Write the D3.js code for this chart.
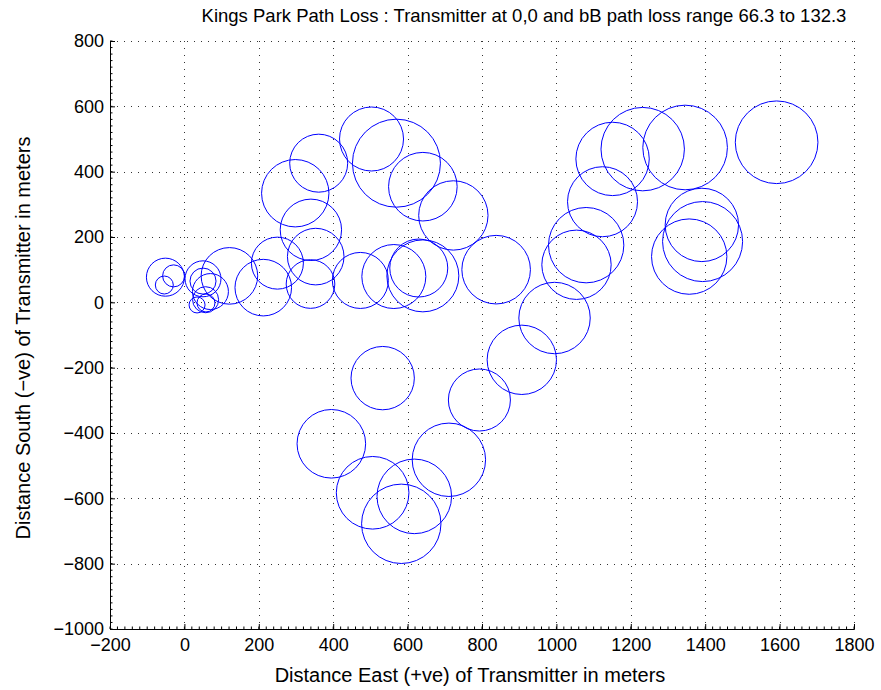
<!DOCTYPE html>
<html>
<head>
<meta charset="utf-8">
<script src="https://cdn.jsdelivr.net/npm/d3@7"></script>
<style>
  body { margin: 0; background: #fff; }
  text { font-family: "Liberation Sans", Arial, sans-serif; fill: #000; }
</style>
</head>
<body>
<div id="chart"></div>
<script>
// measurement points: east (m), north (m), path loss (dB)
const east = [
  -51, -29, -54, 50, 50, 70, 57, 34, 58,
  503, 570, 361, 298, 641, 723, 340, 353, 339, 250, 212, 121, 473, 563, 630, 641, 838,
  1151, 1232, 1346, 1124, 1080, 1054, 995, 1391, 1393, 1357, 1592,
  533, 395, 506, 618, 583, 711, 793, 907
];
const north = [
  77, 81, 53, 72, 65, 33, 8, -8, -2,
  500, 426, 426, 334, 354, 266, 222, 140, 56, 120, 45, 81, 67, 79, 105, 81, 100,
  439, 469, 474, 308, 175, 115, -48, 237, 186, 140, 490,
  -232, -433, -583, -594, -678, -482, -299, -176
];
const pathLoss = [
  86.5, 71.8, 68.1, 84.6, 75.5, 84.6, 75.5, 66.3, 68.1,
  110.3, 132.3, 104.8, 113.4, 114.5, 115.2, 107.9, 103.5, 96.2, 99.3, 103.5, 103.5, 103.0, 110.3, 104.8, 117.6, 114.5,
  118.9, 128.1, 129.2, 115.8, 120.7, 115.2, 117.1, 118.9, 125.0, 120.7, 127.4,
  109.7, 114.5, 118.2, 120.0, 124.4, 118.9, 108.5, 115.2
];
const xTicks = [-200, 0, 200, 400, 600, 800, 1000, 1200, 1400, 1600, 1800];
const yTicks = [-1000, -800, -600, -400, -200, 0, 200, 400, 600, 800];

const points = east.map((e, i) => ({ x: e, y: north[i], loss: pathLoss[i] }));

const width = 881, height = 690;
const margin = { top: 41, right: 27, bottom: 61, left: 110 };
const innerWidth = width - margin.left - margin.right;
const innerHeight = height - margin.top - margin.bottom;

const svg = d3.select("#chart").append("svg")
  .attr("width", width)
  .attr("height", height);

const g = svg.append("g")
  .attr("transform", `translate(${margin.left},${margin.top})`);

const xScale = d3.scaleLinear().domain([-200, 1800]).range([0, innerWidth]);
const yScale = d3.scaleLinear().domain([-1000, 800]).range([innerHeight, 0]);
const rScale = d3.scaleLinear().domain([66.3, 132.3]).range([8, 44]);

// dotted grid
const grid = g.append("g").attr("stroke", "#333").attr("stroke-width", 1)
  .attr("stroke-dasharray", "1,6");
grid.selectAll(".gx").data(xTicks.slice(1)).join("line")
  .attr("x1", d => Math.round(xScale(d)) + 0.5).attr("x2", d => Math.round(xScale(d)) + 0.5)
  .attr("y1", 0).attr("y2", innerHeight);
grid.selectAll(".gy").data(yTicks.slice(1)).join("line")
  .attr("y1", d => Math.round(yScale(d)) + 0.5).attr("y2", d => Math.round(yScale(d)) + 0.5)
  .attr("x1", 0).attr("x2", innerWidth);

// circles
g.append("g").selectAll("circle")
  .data(points)
  .join("circle")
  .attr("cx", d => xScale(d.x))
  .attr("cy", d => yScale(d.y))
  .attr("r", d => rScale(d.loss))
  .attr("fill", "none")
  .attr("stroke", "#0000ff")
  .attr("stroke-width", 1);

// axes (matlab style: ticks inside, minor ticks)
const xAxis = d3.axisBottom(xScale).tickValues(xTicks).tickSize(-5).tickPadding(9)
  .tickFormat(d3.format("d"));
const yAxis = d3.axisLeft(yScale).tickValues(yTicks).tickSize(-5).tickPadding(6)
  .tickFormat(d3.format("d"));

const gx = g.append("g").attr("transform", `translate(0,${innerHeight})`).call(xAxis);
const gy = g.append("g").call(yAxis);
[gx, gy].forEach(a => {
  a.select(".domain").attr("stroke", "#000");
  a.selectAll("text").style("font-size", "18px")
    .style("font-family", "'Liberation Sans', Arial, sans-serif");
});

// minor ticks
g.append("g").selectAll("line")
  .data(d3.range(-200, 1801, 20))
  .join("line")
  .attr("x1", d => xScale(d)).attr("x2", d => xScale(d))
  .attr("y1", innerHeight).attr("y2", innerHeight - 2.5)
  .attr("stroke", "#000");
g.append("g").selectAll("line")
  .data(d3.range(-1000, 801, 20))
  .join("line")
  .attr("y1", d => yScale(d)).attr("y2", d => yScale(d))
  .attr("x1", 0).attr("x2", 2.5)
  .attr("stroke", "#000");

// labels
svg.append("text")
  .attr("x", 524).attr("y", 22)
  .attr("text-anchor", "middle")
  .style("font-size", "18.5px")
  .text("Kings Park Path Loss : Transmitter at 0,0 and bB path loss range 66.3 to 132.3");

svg.append("text")
  .attr("x", 470).attr("y", 682)
  .attr("text-anchor", "middle")
  .style("font-size", "20px")
  .text("Distance East (+ve) of Transmitter in meters");

svg.append("text")
  .attr("transform", `translate(30,338) rotate(-90)`)
  .attr("text-anchor", "middle")
  .style("font-size", "20px")
  .text("Distance South (\u2212ve) of Transmitter in meters");
</script>
</body>
</html>
